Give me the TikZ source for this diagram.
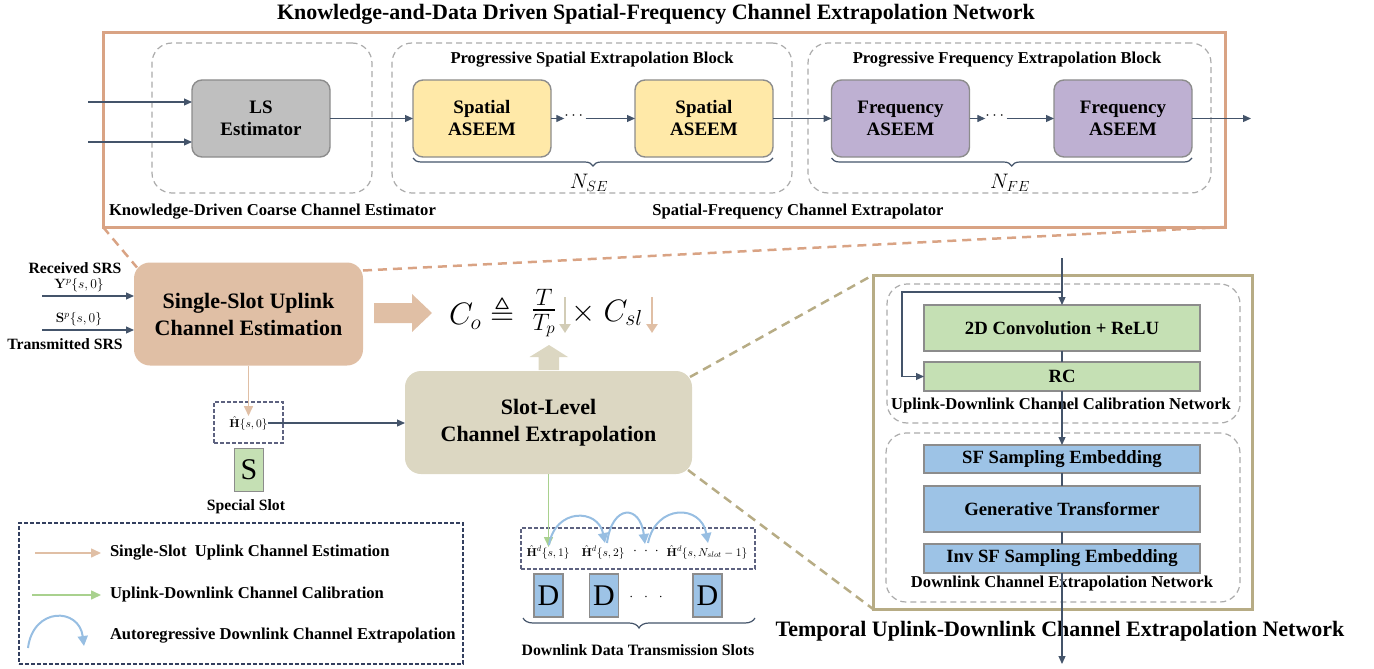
\RequirePackage{fix-cm}
\documentclass[tikz,border=0pt]{standalone}
\usepackage{amsmath,amssymb}
\usepackage[no-math]{fontspec}
\setmainfont{Liberation Serif}
\usetikzlibrary{arrows.meta,decorations.pathreplacing,calc}
\newcommand\fsz[2]{\fontsize{#1}{#2}\selectfont}
\definecolor{slate}{HTML}{44546A}
\definecolor{tanfill}{HTML}{E0BFA5}
\definecolor{tanline}{HTML}{D9A384}
\definecolor{olive}{HTML}{B7AC85}
\definecolor{beige}{HTML}{DCD7C2}
\definecolor{beigearr}{HTML}{D2CCB6}
\definecolor{dgray}{HTML}{ABABAB}
\definecolor{yel}{HTML}{FFE9A8}
\definecolor{lav}{HTML}{BEB0D2}
\definecolor{lsgray}{HTML}{BFBFBF}
\definecolor{grn}{HTML}{C5E0B4}
\definecolor{blu}{HTML}{9DC3E6}
\definecolor{arcblue}{HTML}{97BEE2}
\definecolor{legnavy}{HTML}{333F5F}
\definecolor{grnarrow}{HTML}{A9D18E}
\definecolor{bord}{HTML}{8C8C8C}
\definecolor{hbox}{HTML}{5D6280}
\begin{document}
\begin{tikzpicture}[x=1pt,y=-1pt,
  every node/.style={inner sep=0pt, outer sep=0pt},
  lbl/.style={font=\fsz{16.6}{19}\bfseries},
  blk/.style={draw=bord, line width=1.4pt, rounded corners=10pt, minimum width=138pt, minimum height=77pt, align=center, font=\fsz{19}{22}\bfseries},
  grp/.style={draw=dgray, line width=1.2pt, dash pattern=on 6pt off 4pt, rounded corners=20pt},
  sarr/.style={draw=slate, line width=1.2pt, -{Triangle[length=8pt,width=7pt]}},
  sline/.style={draw=slate, line width=1.2pt},
  bigbox/.style={rounded corners=16pt, align=center, font=\fsz{22}{27}\bfseries},
  rbox/.style={draw=bord, line width=1.5pt, minimum width=276pt, align=center, font=\fsz{18.7}{21}\bfseries},
  zoomtan/.style={draw=tanline, line width=2.5pt, dash pattern=on 9pt off 6pt},
  zoomol/.style={draw=olive, line width=2.5pt, dash pattern=on 9pt off 6pt},
  brc/.style={draw=slate, line width=1.2pt, decorate, decoration={brace, mirror, amplitude=8pt}},
  tanarr/.style={draw=tanfill, line width=1.6pt, -{Triangle[length=10pt,width=9pt]}},
  grnarr/.style={draw=grnarrow, line width=1.6pt, -{Triangle[length=10pt,width=9pt]}},
  bluarc/.style={draw=arcblue, line width=2pt, -{Triangle[length=10pt,width=10pt]}},
  slotbox/.style={draw=bord, line width=1.5pt, minimum width=29pt, minimum height=43pt, font=\fsz{30}{32}},
  smallbox/.style={draw=hbox, line width=1.5pt, dash pattern=on 4pt off 2pt},
]
\useasboundingbox (0,0) rectangle (1374,669);

% ===== top network =====
\node[font=\fsz{22}{26}\bfseries] (title) at (656,14) {Knowledge-and-Data Driven Spatial-Frequency Channel Extrapolation Network};
\node[draw=tanline, line width=3pt, minimum width=1122pt, minimum height=194pt] (top) at (664,130) {};

\node[grp, minimum width=220pt, minimum height=150pt] (g1) at (262,118) {};
\node[grp, minimum width=400pt, minimum height=150pt] (g2) at (592,118) {};
\node[grp, minimum width=403pt, minimum height=150pt] (g3) at (1009.5,118) {};

\node[lbl] (g2t) at (592,60) {Progressive Spatial Extrapolation Block};
\node[lbl] (g3t) at (1007,60) {Progressive Frequency Extrapolation Block};

\node[blk, fill=lsgray] (ls) at (261,118.5) {LS\\Estimator};
\node[blk, fill=yel] (sp1) at (482,118.5) {Spatial\\ASEEM};
\node[blk, fill=yel] (sp2) at (704,118.5) {Spatial\\ASEEM};
\node[blk, fill=lav] (fr1) at (900.5,118.5) {Frequency\\ASEEM};
\node[blk, fill=lav] (fr2) at (1123,118.5) {Frequency\\ASEEM};

\node[font=\fsz{16}{18}\bfseries] (d1) at (575,116) {$\cdots$};
\node[font=\fsz{16}{18}\bfseries] (d2) at (996,116) {$\cdots$};

\coordinate (in1) at (88,102);
\coordinate (in2) at (88,142);
\coordinate (outr) at (1251,118.5);
\draw[sarr] (in1) -- (in1 -| ls.west);
\draw[sarr] (in2) -- (in2 -| ls.west);
\draw[sarr] (ls) -- (sp1);
\draw[sarr] (sp1.east) -- (sp1.east -| d1.west);
\draw[sarr] (sp2.west -| d1.east) -- (sp2.west);
\draw[sarr] (sp2) -- (fr1);
\draw[sarr] (fr1.east) -- (fr1.east -| d2.west);
\draw[sarr] (fr2.west -| d2.east) -- (fr2.west);
\draw[sarr] (fr2.east) -- (outr);

\draw[brc] (sp1.south west) ++(0,1) -- ($(sp2.south east)+(0,1)$);
\draw[brc] (fr1.south west) ++(0,1) -- ($(fr2.south east)+(0,1)$);
\node[font=\fsz{21}{23}] (nse) at (589,183) {$N_{SE}$};
\node[font=\fsz{21}{23}] (nfe) at (1010,183) {$N_{FE}$};

\node[lbl, anchor=west] (kdl) at (109,212) {Knowledge-Driven Coarse Channel Estimator};
\node[lbl] (sfl) at (798,212) {Spatial-Frequency Channel Extrapolator};

% ===== middle =====
\node[bigbox, fill=tanfill, minimum width=229pt, minimum height=103pt] (ss) at (248.5,314) {Single-Slot Uplink\\Channel Estimation};
\draw[zoomtan] (top.south west) -- ($(ss.north west)+(3,5)$);
\draw[zoomtan] ($(ss.north east)+(0,8)$) -- (top.south east);

\node[font=\fsz{15.7}{18}\bfseries] (rsrs) at (75,268) {Received SRS};
\node[font=\fsz{13.5}{16}] (ysym) at (79,285) {$\mathbf{Y}^p\{s,0\}$};
\node[font=\fsz{13.5}{16}] (ssym) at (79,319) {$\mathbf{S}^p\{s,0\}$};
\node[font=\fsz{15.7}{18}\bfseries] (tsrs) at (65,344) {Transmitted SRS};
\coordinate (rin1) at (42,296);
\coordinate (rin2) at (42,330);
\draw[sarr] (rin1) -- (rin1 -| ss.west);
\draw[sarr] (rin2) -- (rin2 -| ss.west);

% fat arrow: single-slot -> formula
\coordinate (fa0) at (374,313);
\fill[tanfill] (fa0) ++(0,-10) -- ++(38,0) -- ++(0,-9) -- (432,313) -- (412,332) -- ++(0,-9) -- ++(-38,0) -- cycle;

\node[font=\fsz{31}{36}, anchor=west] (fc) at (449,313) {$C_o \triangleq$};
\node[font=\fsz{34}{38}] (ff) at (544,313) {$\frac{T}{T_p}$};
\node[font=\fsz{31}{36}, anchor=west] (fx) at (571,313) {$\times\; C_{sl}$};
\coordinate (a1s) at (565,297);
\coordinate (a1e) at (565,333);
\coordinate (a2s) at (652,297);
\coordinate (a2e) at (652,333);
\draw[draw=beigearr, line width=2.6pt, -{Triangle[length=9pt,width=11pt]}] (a1s) -- (a1e);
\draw[draw=tanfill, line width=2.6pt, -{Triangle[length=9pt,width=11pt]}] (a2s) -- (a2e);

\node[bigbox, fill=beige, minimum width=287pt, minimum height=103pt] (slot) at (548.5,422.5) {Slot-Level\\Channel Extrapolation};
% fat up arrow: slot-level -> formula
\fill[beige] (slot.north) ++(-10,-1) -- ++(0,-13) -- ++(-9,0) -- (549,345) -- (568,357) -- ++(-9,0) -- ++(0,13) -- cycle;

\node[smallbox, minimum width=69pt, minimum height=41pt] (hbx) at (248.5,422.5) {};
\node[font=\fsz{11.5}{13}] (hh) at (248.5,423) {$\hat{\mathbf{H}}\{s,0\}$};
\coordinate (hin) at (248.5,416);
\draw[tanarr] (ss.south) -- (hin);
\draw[sarr] (hh.east) -- (hh.east -| slot.west);
\node[slotbox, fill=grn] (sbox) at (249,470) {S};
\node[font=\fsz{15.7}{18}\bfseries] (spl) at (246,507) {Special Slot};

% downlink slots
\node[smallbox, minimum width=234pt, minimum height=41pt] (dbx) at (638,548.5) {};
\node[font=\fsz{11.5}{13}] (h1) at (548,552) {$\hat{\mathbf{H}}^d\{s,1\}$};
\node[font=\fsz{11.5}{13}] (h2) at (603,552) {$\hat{\mathbf{H}}^d\{s,2\}$};
\node[font=\fsz{14}{16}] (hd) at (646,551) {$\cdot\;\cdot\;\cdot$};
\node[font=\fsz{11.5}{13}] (h3) at (707,552) {$\hat{\mathbf{H}}^d\{s,N_{slot}-1\}$};
\coordinate (gin) at (549,547);
\draw[grnarr] (slot.south) -- (slot.south |- gin);
\coordinate (c1a) at (549,545); \coordinate (c1b) at (605,543);
\coordinate (c2a) at (607,543); \coordinate (c2b) at (645,544);
\coordinate (c3a) at (648,543); \coordinate (c3b) at (708,543);
\draw[bluarc] (c1a) .. controls (555,508) and (598,508) .. (c1b);
\draw[bluarc] (c2a) .. controls (612,504) and (640,504) .. (c2b);
\draw[bluarc] (c3a) .. controls (656,504) and (701,504) .. (c3b);

\node[slotbox, fill=blu] (db1) at (548.5,595.5) {D};
\node[slotbox, fill=blu] (db2) at (604,595.5) {D};
\node[slotbox, fill=blu] (db3) at (707.5,595.5) {D};
\node[font=\fsz{14}{16}] (ddots) at (646,597) {$\cdot\;\;\cdot\;\;\cdot$};
\coordinate (bra) at (523,618);
\coordinate (brb) at (755,618);
\draw[brc, decoration={brace, mirror, amplitude=10pt}] (bra) -- (brb);
\node[font=\fsz{15.8}{18}\bfseries] (dlab) at (638,650) {Downlink Data Transmission Slots};

% legend
\node[draw=legnavy, line width=1.5pt, dash pattern=on 4pt off 2pt, minimum width=444pt, minimum height=141pt] (leg) at (241,593.5) {};
\coordinate (l1a) at (35,553); \coordinate (l1b) at (101,553);
\coordinate (l2a) at (32,595); \coordinate (l2b) at (101,595);
\coordinate (l3a) at (28,648); \coordinate (l3b) at (84,646);
\draw[tanarr] (l1a) -- (l1b);
\draw[grnarr] (l2a) -- (l2b);
\draw[bluarc] (l3a) .. controls (33,607) and (79,607) .. (l3b);
\node[lbl, anchor=west] (lt1) at (110,553) {Single-Slot\ \ Uplink Channel Estimation};
\node[lbl, anchor=west] (lt2) at (110,595) {Uplink-Downlink Channel Calibration};
\node[lbl, anchor=west] (lt3) at (110,636) {Autoregressive Downlink Channel Extrapolation};

% ===== right panel =====
\node[draw=olive, line width=3pt, minimum width=379pt, minimum height=334pt] (tbox) at (1062.5,442) {};
\draw[zoomol] ($(slot.north east)+(-2,6)$) -- (tbox.north west);
\draw[zoomol] ($(slot.south east)+(-4,-4)$) -- (tbox.south west);

\node[grp, minimum width=353pt, minimum height=139pt] (ga) at (1063.5,353.5) {};
\node[grp, minimum width=354pt, minimum height=169pt] (gb) at (1063,517.5) {};

\node[rbox, fill=grn, minimum height=46pt] (conv) at (1062,328) {2D Convolution + ReLU};
\node[rbox, fill=grn, minimum height=29pt] (rc) at (1062,376.5) {RC};
\node[lbl] (gal) at (1061,406) {Uplink-Downlink Channel Calibration Network};
\node[rbox, fill=blu, minimum height=28pt] (sf) at (1062,459) {SF Sampling Embedding};
\node[rbox, fill=blu, minimum height=46pt] (gen) at (1062,509) {Generative Transformer};
\node[rbox, fill=blu, minimum height=29pt] (inv) at (1062,558.5) {Inv SF Sampling Embedding};
\node[lbl] (gbl) at (1062,584) {Downlink Channel Extrapolation Network};
\node[font=\fsz{22}{26}\bfseries] (tlab) at (1060,631) {Temporal Uplink-Downlink Channel Extrapolation Network};

\coordinate (tin) at (1062,258);
\coordinate (byp1) at (1062,292);
\coordinate (byp2) at (902,292);
\coordinate (tout) at (1062,664);
\draw[sarr] (tin) -- (conv.north);
\draw[sarr] (byp1) -- (byp2) |- (rc.west);
\draw[sline] (conv.south) -- (rc.north);
\draw[sarr] (rc.south) -- (sf.north);
\draw[sline] (sf.south) -- (gen.north);
\draw[sline] (gen.south) -- (inv.north);
\draw[sarr] (inv.south) -- (tout);
\end{tikzpicture}
\end{document}
